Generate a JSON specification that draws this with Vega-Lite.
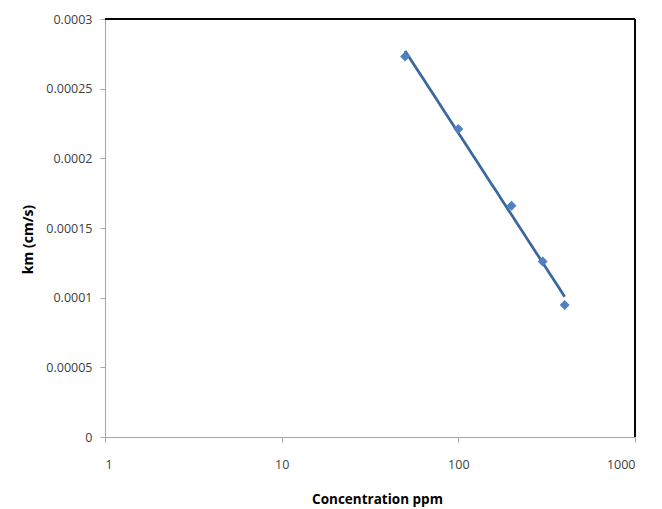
{
  "$schema": "https://vega.github.io/schema/vega-lite/v6.json",
  "autosize": {"type": "none"},
  "width": 530,
  "height": 418,
  "padding": {"left": 105, "top": 19, "right": 27, "bottom": 72},
  "background": "white",
  "config": {
    "view": {"stroke": null},
    "font": "Open Sans"
  },
  "data": {
    "values": [
      {"conc": 50, "km": 0.000273},
      {"conc": 100, "km": 0.000221},
      {"conc": 200, "km": 0.000166},
      {"conc": 300, "km": 0.000126},
      {"conc": 400, "km": 0.0000947}
    ]
  },
  "layer": [
    {
      "mark": {"type": "rule", "color": "black", "strokeWidth": 1},
      "encoding": {"y": {"datum": 0.0003, "type": "quantitative"}}
    },
    {
      "mark": {"type": "rule", "color": "black", "strokeWidth": 1},
      "encoding": {"x": {"datum": 1000, "type": "quantitative"}}
    },
    {
      "transform": [
        {"regression": "km", "on": "conc", "method": "log", "extent": [50, 400]}
      ],
      "mark": {"type": "line", "color": "#3b689f", "strokeWidth": 2.75},
      "encoding": {
        "x": {"field": "conc", "type": "quantitative"},
        "y": {"field": "km", "type": "quantitative"}
      }
    },
    {
      "mark": {"type": "point", "shape": "diamond", "filled": true, "color": "#4f81bd", "opacity": 1, "size": 100},
      "encoding": {
        "x": {
          "field": "conc",
          "type": "quantitative",
          "scale": {"type": "log", "domain": [1, 1000], "nice": false},
          "axis": {
            "title": "Concentration  ppm",
            "values": [1, 10, 100, 1000],
            "format": "d",
            "grid": false,
            "domainColor": "#a6a6a6",
            "tickColor": "#a6a6a6",
            "tickSize": 5,
            "labelFontSize": 12.5,
            "labelColor": "#404040",
            "labelPadding": 16,
            "titleFontSize": 13.5,
            "titleFontWeight": "bold",
            "titleColor": "#000000",
            "titlePadding": 22,
            "titleX": 272
          }
        },
        "y": {
          "field": "km",
          "type": "quantitative",
          "scale": {"domain": [0, 0.0003], "nice": false},
          "axis": {
            "title": "km (cm/s)",
            "values": [0, 0.00005, 0.0001, 0.00015, 0.0002, 0.00025, 0.0003],
            "format": "~g",
            "grid": false,
            "domainColor": "#a6a6a6",
            "tickColor": "#a6a6a6",
            "tickSize": 5,
            "labelFontSize": 12.5,
            "labelColor": "#404040",
            "labelPadding": 8,
            "titleFontSize": 14,
            "titleFontWeight": "bold",
            "titleColor": "#000000",
            "titleX": -77,
            "titleY": 220,
            "titleBaseline": "middle"
          }
        }
      }
    }
  ]
}
